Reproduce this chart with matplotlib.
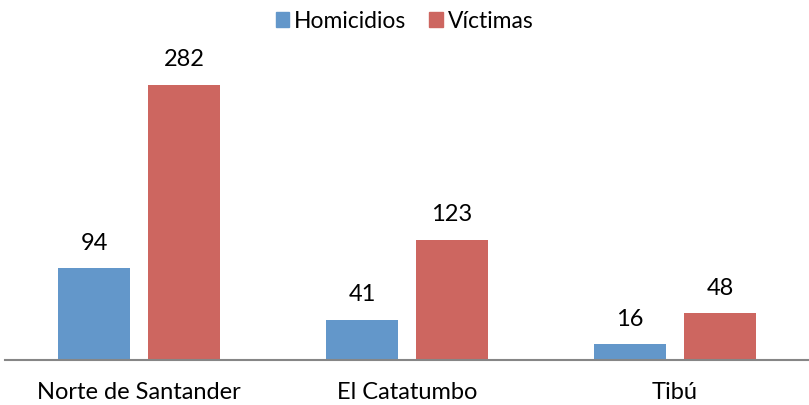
import matplotlib
matplotlib.use("Agg")
import matplotlib.pyplot as plt
import numpy as np
from matplotlib.patches import Patch

categories = ["Norte de Santander", "El Catatumbo", "Tibú"]
homicidios = [94, 41, 16]
victimas = [282, 123, 48]
series_names = ["Homicidios", "Víctimas"]

plt.rcParams['font.family'] = ['Lato', 'DejaVu Sans']

fig = plt.figure(figsize=(8.09, 4.05), dpi=100)
ax = fig.add_axes([5/809, 45/405, 804/809, 292.5/405])

x = np.arange(len(categories))
w = 0.269
off = 0.168
c1, c2 = "#6397CA", "#CD6660"
b1 = ax.bar(x - off, homicidios, w, color=c1)
b2 = ax.bar(x + off, victimas, w, color=c2)
for bars, vals in ((b1, homicidios), (b2, victimas)):
    for r, v in zip(bars, vals):
        ax.text(r.get_x() + r.get_width()/2, v + 15, str(v), ha="center", va="bottom", fontsize=17, color="#000000")

ax.set_xlim(-0.5, 2.5)
ax.set_ylim(0, 300)
ax.set_xticks(x)
ax.set_xticklabels(categories, fontsize=17)
ax.tick_params(axis="x", length=0, pad=16)
ax.set_yticks([])
for s in ["top", "right", "left"]:
    ax.spines[s].set_visible(False)
ax.spines["bottom"].set_color("#868686")
ax.spines["bottom"].set_linewidth(1.5)

handles = [Patch(color=c1), Patch(color=c2)]
fig.legend(handles, series_names, loc="center", bbox_to_anchor=(0.5, 1 - 21/405), ncol=2,
           frameon=False, fontsize=16.5, handlelength=0.6, handleheight=0.6, handletextpad=0.2,
           columnspacing=1.0)

fig.savefig("out.png", dpi=100)
